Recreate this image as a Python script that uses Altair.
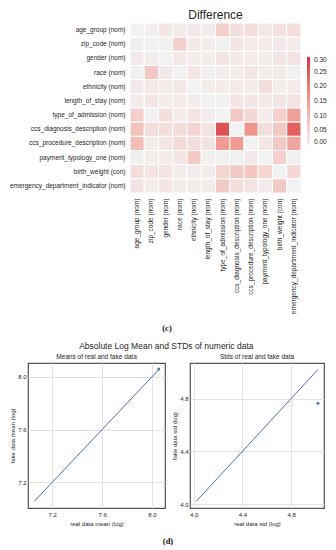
import altair as alt
import pandas as pd

# ---------------- data ----------------
features = [
    "age_group (nom)", "zip_code (nom)", "gender (nom)", "race (nom)",
    "ethnicity (nom)", "length_of_stay (nom)", "type_of_admission (nom)",
    "ccs_diagnosis_description (nom)", "ccs_procedure_description (nom)",
    "payment_typology_one (nom)", "birth_weight (con)",
    "emergency_department_indicator (nom)",
]

diff_rows = [
    [0.000, 0.004, 0.020, 0.010, 0.015, 0.008, 0.060, 0.030, 0.035, 0.015, 0.030, 0.035],
    [0.005, 0.000, 0.005, 0.060, 0.015, 0.010, 0.005, 0.020, 0.010, 0.010, 0.015, 0.010],
    [0.015, 0.010, 0.000, 0.015, 0.010, 0.010, 0.020, 0.015, 0.010, 0.010, 0.020, 0.025],
    [0.005, 0.070, 0.015, 0.000, 0.020, 0.005, 0.010, 0.010, 0.020, 0.010, 0.010, 0.005],
    [0.015, 0.015, 0.010, 0.020, 0.000, 0.010, 0.010, 0.015, 0.010, 0.035, 0.010, 0.010],
    [0.010, 0.020, 0.010, 0.010, 0.010, 0.000, 0.005, 0.020, 0.020, 0.015, 0.020, 0.025],
    [0.060, 0.005, 0.030, 0.010, 0.025, 0.010, 0.000, 0.070, 0.045, 0.010, 0.060, 0.140],
    [0.080, 0.035, 0.035, 0.035, 0.050, 0.025, 0.260, 0.000, 0.160, 0.030, 0.070, 0.240],
    [0.090, 0.010, 0.020, 0.040, 0.035, 0.025, 0.150, 0.150, 0.000, 0.020, 0.070, 0.130],
    [0.005, 0.010, 0.010, 0.020, 0.070, 0.005, 0.005, 0.005, 0.015, 0.000, 0.060, 0.005],
    [0.035, 0.025, 0.025, 0.010, 0.010, 0.010, 0.050, 0.070, 0.075, 0.050, 0.000, 0.045],
    [0.025, 0.010, 0.020, 0.010, 0.010, 0.010, 0.070, 0.035, 0.025, 0.010, 0.070, 0.000],
]
colorbar_ticks = [0.0, 0.05, 0.10, 0.15, 0.20, 0.25, 0.30]

mean_line_x = [7.055, 8.055]
mean_line_y = [7.055, 8.055]
mean_point_x = [8.055]
mean_point_y = [8.06]
mean_ticks = [7.2, 7.4, 7.6, 7.8, 8.0]

std_line_x = [4.02, 5.02]
std_line_y = [4.02, 5.02]
std_point_x = [5.02]
std_point_y = [4.764]
std_ticks = [4.0, 4.2, 4.4, 4.6, 4.8, 5.0]

# ---------------- build tables ----------------
heat_df = pd.DataFrame(
    [{"row": features[i], "col": features[j], "value": diff_rows[i][j]}
     for i in range(len(features)) for j in range(len(features))]
)

FONT = "Liberation Sans"
TXT = "#262626"
BLUE = "#4c72b0"


def spacer():
    return alt.Chart(pd.DataFrame({"a": [0]})).mark_point(
        size=0, opacity=0, strokeWidth=0).encode(
        x=alt.value(0), y=alt.value(0)).properties(width=1, height=1)


heat = alt.Chart(heat_df).mark_rect(stroke="white", strokeWidth=1).encode(
    x=alt.X("col:N", sort=features, title=None,
            axis=alt.Axis(labelAngle=-90, ticks=False, domain=False, labelFontSize=6.5,
                          labelPadding=5, labelColor=TXT, labelFont=FONT, labelLimit=200)),
    y=alt.Y("row:N", sort=features, title=None,
            axis=alt.Axis(ticks=False, domain=False, labelFontSize=6.5, labelPadding=5,
                          labelColor=TXT, labelFont=FONT, labelLimit=200)),
    color=alt.Color("value:Q",
                    scale=alt.Scale(domain=[0, 0.3], range=["#f2f2f2", "#d7303f"], clamp=True),
                    legend=alt.Legend(title=None, orient="none", legendX=299, legendY=34,
                                      direction="vertical", gradientLength=88,
                                      gradientThickness=3, gradientStrokeWidth=0,
                                      values=colorbar_ticks, format=".2f",
                                      labelFontSize=6.5, labelColor=TXT, labelFont=FONT,
                                      labelOffset=4)),
).properties(
    width=171, height=170,
    title=alt.Title("Difference", fontSize=12, fontWeight="normal", font=FONT,
                    color=TXT, anchor="middle", frame="group", offset=1),
)


def caption(txt, x, y, h):
    return alt.Chart(pd.DataFrame({"t": [txt]})).mark_text(
        font="Liberation Serif", fontWeight="bold", fontSize=8.5, color="#111"
    ).encode(text="t:N", x=alt.value(x), y=alt.value(y)).properties(width=300, height=h)


def scatter(lx, ly, px, py, ticks, dom, xtitle, ytitle, title, w):
    line_df = pd.DataFrame({"x": lx, "y": ly})
    pt_df = pd.DataFrame({"x": px, "y": py})
    ax_x = alt.Axis(values=ticks, format=".1f", ticks=False, domain=False, grid=True,
                    gridColor="#dcdcdc", gridWidth=0.8, labelFontSize=6, labelColor=TXT,
                    labelFont=FONT, labelOverlap=False, title=xtitle, titleFontSize=6,
                    titleFont=FONT, titleFontWeight="normal", titleColor=TXT,
                    titlePadding=3, labelPadding=3)
    ax_y = alt.Axis(values=ticks, format=".1f", ticks=False, domain=False, grid=True,
                    gridColor="#dcdcdc", gridWidth=0.8, labelFontSize=6, labelColor=TXT,
                    labelFont=FONT, labelOverlap=False, title=ytitle, titleFontSize=6,
                    titleFont=FONT, titleFontWeight="normal", titleColor=TXT,
                    titlePadding=2, labelPadding=2)
    sc = alt.Scale(domain=dom, nice=False, zero=False)
    ln = alt.Chart(line_df).mark_line(color=BLUE, strokeWidth=1).encode(
        x=alt.X("x:Q", scale=sc, axis=ax_x), y=alt.Y("y:Q", scale=sc, axis=ax_y))
    pt = alt.Chart(pt_df).mark_point(filled=True, size=9, color=BLUE, opacity=1).encode(
        x=alt.X("x:Q", scale=sc), y=alt.Y("y:Q", scale=sc))
    return alt.layer(ln, pt).properties(
        width=w, height=145,
        view=alt.ViewBackground(stroke="#555555", strokeWidth=1.2),
        title=alt.Title(title, fontSize=6.5, fontWeight="normal", font=FONT, color=TXT,
                        anchor="middle", frame="group", offset=3),
    )


left = scatter(mean_line_x, mean_line_y, mean_point_x, mean_point_y, mean_ticks,
               [7.005, 8.105], "real data mean (log)", "fake data mean (log)",
               "Means of real and fake data", 137)
right = scatter(std_line_x, std_line_y, std_point_x, std_point_y, std_ticks,
                [3.97, 5.07], "real data std (log)", "fake data std (log)",
                "Stds of real and fake data", 134)

top = alt.hconcat(spacer(), heat, spacing=0)

bottom = alt.hconcat(spacer(), alt.hconcat(left, right, spacing=5), spacing=0).properties(
    title=alt.Title("Absolute Log Mean and STDs of numeric data", fontSize=8.5,
                    fontWeight="normal", font=FONT, color=TXT, anchor="middle", offset=2)
)

chart = alt.vconcat(
    top,
    caption("(c)", 159, 14, 28),
    bottom,
    caption("(d)", 160, 14, 15),
    spacing=0,
).properties(padding=0, background="white").configure_view(stroke=None)

chart.save("out.html", embed_options={"renderer": "svg", "actions": False})
